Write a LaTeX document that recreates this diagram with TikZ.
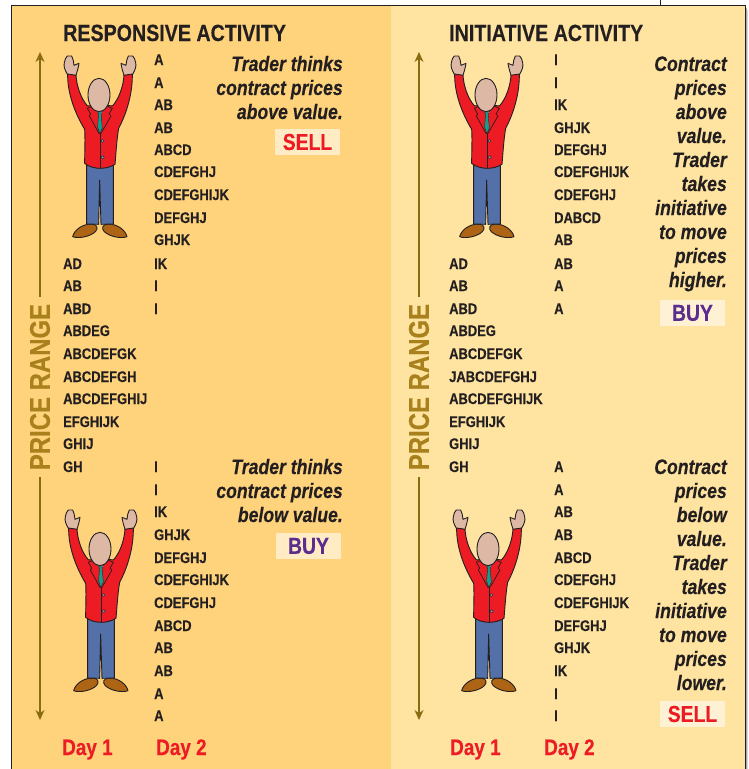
\documentclass[tikz,border=0pt]{standalone}
\usepackage{fontspec}
\setmainfont[FakeStretch=0.84,BoldFeatures={FakeBold=0.25},BoldItalicFeatures={FakeBold=0.25}]{Liberation Sans}
\usetikzlibrary{arrows.meta}
\definecolor{panelL}{HTML}{FFD27C}
\definecolor{panelR}{HTML}{FFE3A0}
\definecolor{ink}{HTML}{231F20}
\definecolor{redt}{HTML}{ED1C24}
\definecolor{purp}{HTML}{5B2D8C}
\definecolor{gold}{HTML}{A8801C}
\definecolor{arrowc}{HTML}{8A6C10}
\definecolor{skin}{HTML}{DDB9A5}
\definecolor{pants}{HTML}{5470A8}
\definecolor{shoe}{HTML}{AD6414}
\definecolor{teal2}{HTML}{12A08E}
\tikzset{
 rowtxt/.style={anchor=base west,inner sep=0pt,font=\bfseries\fontsize{15.4}{15.4}\selectfont,text=ink},
 headtxt/.style={anchor=base west,inner sep=0pt,font=\bfseries\fontsize{23.4}{23.4}\selectfont,text=ink},
 says/.style={anchor=base east,inner sep=0pt,font=\bfseries\itshape\fontsize{21}{21}\selectfont,text=ink},
 daytxt/.style={anchor=base west,inner sep=0pt,font=\bfseries\fontsize{22.5}{22.5}\selectfont,text=redt},
 actbox/.style={fill=#1,minimum width=65pt,minimum height=26pt,inner sep=0pt,font=\bfseries\fontsize{23}{23}\selectfont},
 rangetxt/.style={rotate=90,inner sep=0pt,outer sep=7pt,font=\bfseries\fontsize{28.5}{28.5}\selectfont,text=gold},
 rangearrow/.style={draw=arrowc,line width=1.1pt,-{Stealth[length=10pt,width=9pt]}},
 manline/.style={draw=ink,line width=0.9pt,line join=round},
}
\newcommand{\figman}[2]{%
 \begin{scope}[shift={(50+#1,40+#2)},x=0.3333pt,y=-0.3333pt]
 % hands
 \path[manline,fill=skin] (53,105) .. controls (45,90) and (40,80) .. (43,68) .. controls (45,60) and (47,50) .. (52,48) -- (65,48) .. controls (70,55) and (70,65) .. (72,76) -- (87,70) .. controls (85,85) and (81,95) .. (78,106) -- cycle;
 \path[manline,fill=skin] (247,105) .. controls (255,90) and (260,80) .. (257,68) .. controls (255,60) and (253,50) .. (248,48) -- (235,48) .. controls (230,55) and (230,65) .. (228,76) -- (213,70) .. controls (215,85) and (219,95) .. (222,106) -- cycle;
 % shoes
 \path[manline,fill=shoe] (68,590) .. controls (72,572) and (95,552) .. (125,552) .. controls (142,553) and (145,565) .. (137,574) .. controls (122,590) and (85,597) .. (68,590) -- cycle;
 \path[manline,fill=shoe] (231,590) .. controls (227,572) and (204,552) .. (174,552) .. controls (157,553) and (154,565) .. (162,574) .. controls (177,590) and (214,597) .. (231,590) -- cycle;
 % trousers
 \path[manline,fill=pants] (110,375) -- (190,375) -- (190,552) -- (153,553) -- (149,420) -- (146,553) -- (110,552) -- cycle;
 % jacket
 \path[manline,fill=redt] (53,102) -- (78,106) .. controls (80,140) and (95,180) .. (113,198) -- (135,195) -- (165,195) -- (187,198) .. controls (205,180) and (220,140) .. (222,106) -- (247,102) .. controls (248,160) and (230,220) .. (206,265) .. controls (200,300) and (198,340) .. (195,373) .. controls (180,382) and (165,385) .. (150,385) .. controls (135,385) and (115,380) .. (104,370) .. controls (104,330) and (106,300) .. (104,268) .. controls (75,220) and (52,160) .. (53,102) -- cycle;
 \draw[ink,line width=0.7pt] (151,280) -- (151,385);
 % shirt and tie
 \path[draw=ink,line width=0.4pt,fill=white] (130,197) -- (165,197) -- (150,230) -- cycle;
 \path[draw=ink,line width=0.4pt,fill=teal2] (141,205) -- (157,205) -- (153,218) -- (157,265) -- (149,280) -- (143,262) -- (146,218) -- cycle;
 % lapels
 \draw[ink,line width=0.7pt] (130,197) -- (112,205) -- (122,222) -- (118,228) -- (148,282);
 \draw[ink,line width=0.7pt] (168,197) -- (187,205) -- (177,222) -- (183,228) -- (152,282);
 % buttons
 \path[draw=ink,line width=0.4pt,fill=pants!70!white] (157,303) circle [radius=4.5];
 \path[draw=ink,line width=0.4pt,fill=pants!70!white] (158,352) circle [radius=5];
 % head
 \path[manline,fill=skin] (147,165) ellipse [x radius=33,y radius=50];
 \end{scope}}
\newcommand{\rowat}[4]{\node[rowtxt] (#1) at (#2,#3) {#4};}
\begin{document}
\begin{tikzpicture}[x=1pt,y=-1pt]
\useasboundingbox (0,0) rectangle (748,769);
\fill[white] (0,0) rectangle (748,769);
% shadow
\fill[black!35] (745,8) rectangle (747,769);
\fill[black!15] (747,10) rectangle (748,769);
% panels
\fill[panelL] (11,5) rectangle (391,769);
\fill[panelR] (391,5) rectangle (745,769);
\draw[ink,line width=0.7pt] (11,769) -- (11,5) -- (745,5) -- (745,769);
\draw[ink,line width=0.6pt] (660,0) -- (660,5);
% titles
\node[headtxt] (t1) at (63,41) {RESPONSIVE ACTIVITY};
\node[headtxt] (t2) at (449,41) {INITIATIVE ACTIVITY};
% price range
\node[rangetxt] (pr1) at (40,387) {PRICE RANGE};
\node[rangetxt] (pr2) at (419,387) {PRICE RANGE};
\coordinate (a1t) at (40,52); \coordinate (a1b) at (40,720);
\coordinate (a2t) at (419,52); \coordinate (a2b) at (419,720);
\draw[rangearrow] (pr1.east) -- (a1t);
\draw[rangearrow] (pr1.west) -- (a1b);
\draw[rangearrow] (pr2.east) -- (a2t);
\draw[rangearrow] (pr2.west) -- (a2b);
% men
\figman{0}{0}
\figman{1}{454}
\figman{387}{0}
\figman{389}{454}
% left panel, day 1
\rowat{a1}{63}{269}{AD}
\rowat{a2}{63}{291}{AB}
\rowat{a3}{63}{314}{ABD}
\rowat{a4}{63}{336}{ABDEG}
\rowat{a5}{63}{359}{ABCDEFGK}
\rowat{a6}{63}{382}{ABCDEFGH}
\rowat{a7}{63}{404}{ABCDEFGHIJ}
\rowat{a8}{63}{427}{EFGHIJK}
\rowat{a9}{63}{449}{GHIJ}
\rowat{a10}{63}{472}{GH}
% left panel, day 2 top
\rowat{b1}{154}{65}{A}
\rowat{b2}{154}{88}{A}
\rowat{b3}{154}{110}{AB}
\rowat{b4}{154}{133}{AB}
\rowat{b5}{154}{155}{ABCD}
\rowat{b6}{154}{177}{CDEFGHJ}
\rowat{b7}{154}{200}{CDEFGHIJK}
\rowat{b8}{154}{223}{DEFGHJ}
\rowat{b9}{154}{245}{GHJK}
\rowat{b10}{154}{269}{IK}
\rowat{b11}{154}{291}{I}
\rowat{b12}{154}{314}{I}
% left panel, day 2 bottom
\rowat{c1}{154}{472}{I}
\rowat{c2}{154}{495}{I}
\rowat{c3}{154}{517}{IK}
\rowat{c4}{154}{540}{GHJK}
\rowat{c5}{154}{563}{DEFGHJ}
\rowat{c6}{154}{585}{CDEFGHIJK}
\rowat{c7}{154}{608}{CDEFGHJ}
\rowat{c8}{154}{631}{ABCD}
\rowat{c9}{154}{653}{AB}
\rowat{c10}{154}{676}{AB}
\rowat{c11}{154}{699}{A}
\rowat{c12}{154}{721}{A}
% right panel, day 1
\rowat{d1}{449}{269}{AD}
\rowat{d2}{449}{291}{AB}
\rowat{d3}{449}{314}{ABD}
\rowat{d4}{449}{336}{ABDEG}
\rowat{d5}{449}{359}{ABCDEFGK}
\rowat{d6}{449}{382}{JABCDEFGHJ}
\rowat{d7}{449}{404}{ABCDEFGHIJK}
\rowat{d8}{449}{427}{EFGHIJK}
\rowat{d9}{449}{449}{GHIJ}
\rowat{d10}{449}{472}{GH}
% right panel, day 2 top
\rowat{e1}{554}{65}{I}
\rowat{e2}{554}{88}{I}
\rowat{e3}{554}{110}{IK}
\rowat{e4}{554}{133}{GHJK}
\rowat{e5}{554}{155}{DEFGHJ}
\rowat{e6}{554}{177}{CDEFGHIJK}
\rowat{e7}{554}{200}{CDEFGHJ}
\rowat{e8}{554}{223}{DABCD}
\rowat{e9}{554}{245}{AB}
\rowat{e10}{554}{269}{AB}
\rowat{e11}{554}{291}{A}
\rowat{e12}{554}{314}{A}
% right panel, day 2 bottom
\rowat{f1}{554}{472}{A}
\rowat{f2}{554}{495}{A}
\rowat{f3}{554}{517}{AB}
\rowat{f4}{554}{540}{AB}
\rowat{f5}{554}{563}{ABCD}
\rowat{f6}{554}{585}{CDEFGHJ}
\rowat{f7}{554}{608}{CDEFGHIJK}
\rowat{f8}{554}{631}{DEFGHJ}
\rowat{f9}{554}{653}{GHJK}
\rowat{f10}{554}{676}{IK}
\rowat{f11}{554}{699}{I}
\rowat{f12}{554}{721}{I}
% commentary
\node[says] (s1) at (343,71) {Trader thinks};
\node[says] (s2) at (343,95) {contract prices};
\node[says] (s3) at (343,119) {above value.};
\node[says] (s4) at (343,474) {Trader thinks};
\node[says] (s5) at (343,498) {contract prices};
\node[says] (s6) at (343,522) {below value.};
\node[actbox=white!55!panelL,text=redt] (k1) at (307.5,142) {SELL};
\node[actbox=white!55!panelL,text=purp] (k2) at (308.5,546) {BUY};
\node[says] (u1) at (727,71) {Contract};
\node[says] (u2) at (727,95) {prices};
\node[says] (u3) at (727,119) {above};
\node[says] (u4) at (727,143) {value.};
\node[says] (u5) at (727,167) {Trader};
\node[says] (u6) at (727,191) {takes};
\node[says] (u7) at (727,215) {initiative};
\node[says] (u8) at (727,239) {to move};
\node[says] (u9) at (727,263) {prices};
\node[says] (u10) at (727,287) {higher.};
\node[actbox=white!55!panelR,text=purp] (k3) at (692.5,313) {BUY};
\node[says] (v1) at (727,474) {Contract};
\node[says] (v2) at (727,498) {prices};
\node[says] (v3) at (727,522) {below};
\node[says] (v4) at (727,546) {value.};
\node[says] (v5) at (727,570) {Trader};
\node[says] (v6) at (727,594) {takes};
\node[says] (v7) at (727,618) {initiative};
\node[says] (v8) at (727,642) {to move};
\node[says] (v9) at (727,666) {prices};
\node[says] (v10) at (727,690) {lower.};
\node[actbox=white!55!panelR,text=redt] (k4) at (692.5,714) {SELL};
% days
\node[daytxt] (d1a) at (62,755) {Day 1};
\node[daytxt] (d1b) at (156,755) {Day 2};
\node[daytxt] (d2a) at (450,755) {Day 1};
\node[daytxt] (d2b) at (544,755) {Day 2};
\end{tikzpicture}
\end{document}
